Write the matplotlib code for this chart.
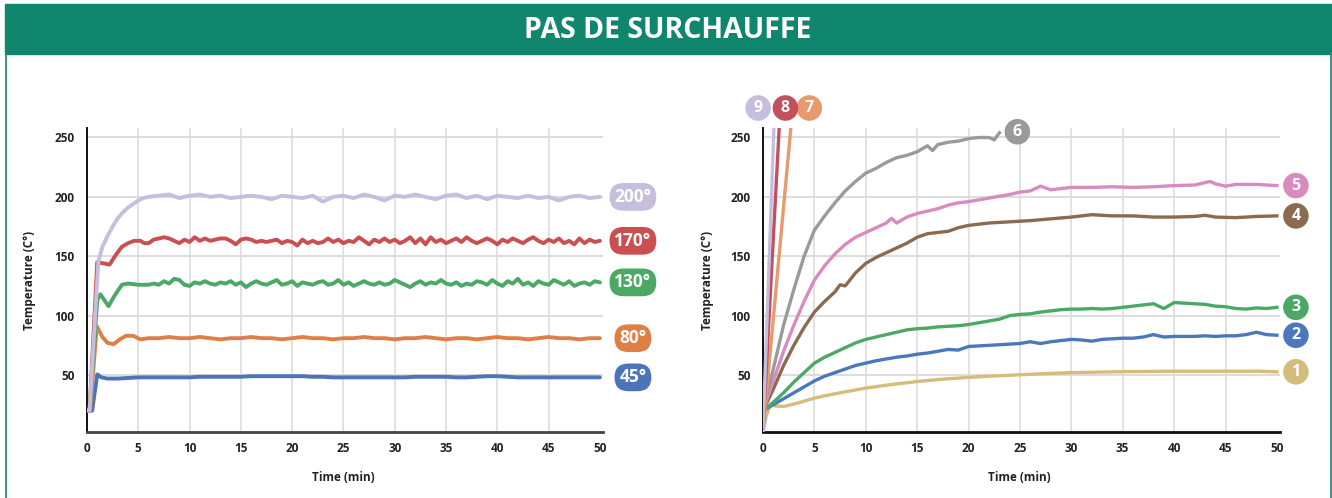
import numpy as np
import matplotlib
matplotlib.use("Agg")
import matplotlib.pyplot as plt
from matplotlib.patches import Rectangle
from matplotlib.lines import Line2D

plt.rcParams['font.family'] = ['Open Sans', 'DejaVu Sans']
plt.rcParams['font.weight'] = 'bold'

# ---- left chart: thermostat set points, temperature vs time ----
left_labels = ['200°', '170°', '130°', '80°', '45°']
left_colors = ['#c5bfdd', '#c94f50', '#4ba865', '#e07f45', '#4c74b8']

t200_start = [0, 0.25, 1.1, 1.5, 2.0, 2.5, 3.0, 3.5, 4.0, 4.5, 5.0, 5.5]
v200_start = [20, 20, 145, 158, 167, 175, 182, 187, 191, 194, 197, 199]
v200_steady = [200, 201, 202, 199, 201, 202, 200, 201, 199, 200, 201, 200, 198,
               201, 200, 199, 201, 196, 200, 201, 199, 202, 200, 197, 201, 200,
               202, 200, 198, 201, 202, 199, 201, 198, 201, 200, 199, 201, 199,
               200, 197, 200, 201, 199, 200]

t170_start = [0, 0.25, 1.0, 1.6, 2.2, 2.8, 3.4, 4.0, 4.6, 5.2, 5.6]
v170_start = [20, 20, 145, 144, 143, 151, 158, 161, 163, 163, 161]
v170_steady = [161, 164, 165, 166, 165, 163, 161, 164, 162, 166, 163, 165, 163,
               164, 165, 165, 163, 160, 164, 165, 164, 162, 163, 162, 163, 164,
               161, 163, 162, 159, 164, 161, 163, 161, 162, 165, 162, 164, 161,
               163, 162, 166, 163, 160, 164, 162, 165, 162, 164, 161, 163, 166,
               161, 165, 160, 166, 162, 164, 161, 163, 165, 162, 166, 163, 161,
               163, 165, 163, 160, 164, 162, 165, 163, 161, 164, 166, 163, 161,
               164, 162, 165, 161, 163, 160, 165, 161, 164, 162, 163]

t130_start = [0, 0.25, 1.0, 1.3, 2.1, 2.7, 3.4, 4.0, 5.0, 5.6]
v130_start = [20, 20, 113, 118, 108, 117, 126, 127, 126, 126]
v130_steady = [126, 127, 126, 129, 127, 131, 130, 126, 125, 128, 127, 129, 127,
               126, 128, 127, 129, 126, 128, 124, 127, 129, 127, 126, 128, 130,
               126, 127, 129, 125, 128, 127, 126, 128, 129, 126, 127, 130, 126,
               128, 125, 127, 129, 127, 126, 128, 126, 127, 130, 128, 126, 124,
               127, 129, 126, 128, 127, 130, 127, 126, 128, 125, 127, 126, 129,
               128, 126, 130, 127, 125, 129, 127, 131, 126, 128, 125, 129, 127,
               126, 130, 128, 126, 129, 125, 127, 128, 126, 129, 128]

t80_start = [0, 0.3, 0.95, 1.5, 2.0, 2.6, 3.2, 3.8, 4.5, 5.2]
v80_start = [20, 20, 91, 82, 77, 76, 80, 83, 83, 80]
v80_steady = [81, 81, 82, 81, 81, 82, 81, 80, 81, 81, 82, 81, 81, 80, 81, 82,
              81, 81, 80, 81, 81, 82, 81, 81, 80, 81, 81, 82, 81, 80, 81, 81,
              80, 81, 82, 81, 81, 80, 81, 82, 81, 81, 80, 81, 81]

t45_start = [0, 0.5, 1.0, 1.4, 2.0, 3.0, 4.0, 5.0]
v45_start = [20, 20, 50.5, 48, 47, 47, 47.5, 48]
v45_steady = [48, 48, 48, 48, 48, 48.5, 48.5, 48.5, 48.5, 48.5, 49, 49, 49, 49,
              49, 49, 48.5, 48.5, 48, 48, 48, 48, 48, 48, 48, 48, 48.5, 48.5,
              48.5, 48.5, 48, 48, 48.5, 49, 49, 48.5, 48, 48, 48, 48, 48, 48,
              48, 48, 48]

left_series = [(t200_start, v200_start, v200_steady),
               (t170_start, v170_start, v170_steady),
               (t130_start, v130_start, v130_steady),
               (t80_start, v80_start, v80_steady),
               (t45_start, v45_start, v45_steady)]

# ---- right chart: numbered appliances ----
t1 = [0, 0.3, 0.7, 1.2, 2, 3, 4, 5, 6, 7.5, 10, 12.5, 15, 17.5, 20, 22.5, 25,
      27.5, 30, 35, 40, 45, 48, 50]
v1 = [3, 15, 25, 24, 23.5, 25.5, 28, 30.5, 32.5, 35, 39, 42, 44.5, 46.5, 48,
      49.2, 50.2, 51.2, 52, 52.8, 53.2, 53.2, 53.2, 52.7]

t2 = list(range(0, 51))
v2 = [20, 25, 30, 35, 40, 45, 49, 52, 55, 58, 60, 62, 63.5, 65, 66, 67.5, 68.5,
      70, 71.5, 71, 74, 74.5, 75, 75.5, 76, 76.5, 78, 76.5, 78, 79, 80, 79.5,
      78.5, 80, 80.5, 81, 81, 82, 84, 82, 82.5, 82.5, 82.5, 83, 82.5, 83, 83,
      84, 86, 84, 83.5]

t3 = list(range(0, 51))
v3 = [20, 27, 35, 44, 52, 60, 65, 69, 73, 77, 80, 82, 84, 86, 88, 89, 89.5,
      90.5, 91, 91.5, 92.5, 94, 95.5, 97, 100, 101, 101.5, 103, 104, 105, 105.5,
      105.5, 106, 105.5, 106, 107, 108, 109, 110, 106, 111, 110.5, 110, 109.5,
      108, 107.5, 106, 105.5, 106.5, 106, 107]

t4 = [0, 1, 2, 3, 4, 5, 6, 7, 7.5, 8, 9, 10, 11, 12, 13, 14, 15, 16, 17, 18,
      19, 20, 22, 24, 26, 28, 30, 32, 34, 36, 38, 40, 42, 43, 44, 46, 48, 50]
v4 = [20, 38, 58, 75, 90, 103, 112, 120, 126, 125, 136, 144, 149, 153, 157,
      161, 166, 169, 170, 171, 174, 176, 178, 179, 180, 181.5, 183, 185, 184,
      184, 183, 183, 183.5, 184.5, 183, 182.5, 183.5, 184]

t5 = [0, 1, 2, 3, 4, 5, 6, 7, 8, 9, 10, 11, 12, 12.5, 13, 14, 15, 16, 17, 18,
      19, 20, 22, 24, 25, 26, 27, 28, 30, 32, 34, 36, 38, 40, 42, 43.5, 44, 45,
      46, 48, 50]
v5 = [20, 45, 70, 92, 112, 130, 142, 152, 160, 166, 170, 174, 178, 182, 178,
      183, 186, 188, 190, 193, 195, 196, 199, 202, 204, 205, 209, 206, 208, 208,
      208.5, 208, 208.5, 209.5, 210, 213, 211, 209, 210.5, 210.5, 209.5]

t6 = [0, 1, 2, 3, 4, 5, 6, 7, 8, 9, 10, 11, 12, 13, 14, 15, 16, 16.5, 17, 18,
      19, 20, 21, 22, 22.5, 23]
v6 = [20, 55, 92, 122, 150, 172, 184, 195, 205, 213, 220, 224, 229, 233, 235,
      238, 243, 239, 244, 246, 247, 249, 250, 250, 248, 254]

t7 = [0, 2.75]
v7 = [3, 262]
t8 = [0, 1.6]
v8 = [3, 262]
t9 = [0, 1.08]
v9 = [3, 262]

right_names = ['1', '2', '3', '4', '5', '6', '7', '8', '9']
right_colors = ['#d4bd7a', '#4b78bd', '#4ba865', '#8a6b4f', '#d98bc0',
                '#9a9a9a', '#e89a6d', '#c2505f', '#c5bfdd']
right_series = [(t1, v1), (t2, v2), (t3, v3), (t4, v4), (t5, v5), (t6, v6),
                (t7, v7), (t8, v8), (t9, v9)]
# label offsets (pixels) from each curve's last point
right_offsets = [(19, 0), (19, 0), (19, 0), (19, 0), (19, 0), (18, 1),
                 (18, 20), (6, 20), (-16, 20)]

x_ticks = list(range(0, 51, 5))
y_ticks = [50, 100, 150, 200, 250]

GREEN = '#11866f'
GRID = '#dadada'

fig = plt.figure(figsize=(13.32, 4.98), dpi=100)
W, H = 1332, 498

# header band and frame
fig.patches.append(Rectangle((5 / W, 1 - 54 / H), 1 - 5 / W, 50 / H,
                             transform=fig.transFigure, color=GREEN, zorder=0))
fig.lines.append(Line2D([5.5 / W, 5.5 / W], [0, 1 - 54 / H],
                        transform=fig.transFigure, color='#2a9079', lw=1.3))
fig.lines.append(Line2D([1330.5 / W, 1330.5 / W], [0, 1 - 54 / H],
                        transform=fig.transFigure, color='#2a9079', lw=1.3))
fig.text(668 / W, 1 - 30 / H, 'PAS DE SURCHAUFFE', color='white',
         fontsize=20.5, fontweight='bold', ha='center', va='center')


def style_axes(ax, bottom_color):
    ax.set_xlim(0, 50.3)
    ax.set_ylim(2, 258)
    ax.set_xticks(x_ticks)
    ax.set_yticks(y_ticks)
    for t in x_ticks[1:-1]:
        ax.axvline(t, color=GRID, lw=1.1, zorder=0)
    for v in y_ticks:
        ax.axhline(v, color=GRID, lw=1.3, zorder=0)
    for s in ['top', 'right']:
        ax.spines[s].set_visible(False)
    ax.spines['left'].set_linewidth(1.4)
    ax.spines['left'].set_color('#111111')
    ax.spines['bottom'].set_linewidth(2)
    ax.spines['bottom'].set_color(bottom_color)
    ax.tick_params(length=0, labelsize=8.5)
    ax.tick_params(axis='y', pad=9)
    ax.tick_params(axis='x', pad=7)
    for lab in ax.get_xticklabels() + ax.get_yticklabels():
        lab.set_fontweight('bold')
        lab.set_color('#222222')
    ax.set_xlabel('Time (min)', fontsize=8.5, fontweight='bold',
                  color='#222222')
    ax.set_ylabel('Temperature (C°)', fontsize=8.5, fontweight='bold',
                  color='#222222')
    ax.xaxis.set_label_coords(0.496, -0.128)
    ax.yaxis.set_label_coords(-0.099, 0.5)


# left chart
ax1 = fig.add_axes([87 / W, 66 / H, 516 / W, 304 / H])
style_axes(ax1, '#444444')
for (ts, vs, steady), lab, col in list(zip(left_series, left_labels,
                                            left_colors))[::-1]:
    t_all = list(ts) + list(np.linspace(6, 50, len(steady)))
    v_all = list(vs) + list(steady)
    ax1.plot(t_all, v_all, color=col, lw=2.8, solid_joinstyle='round',
             solid_capstyle='round', zorder=3)
    ax1.annotate(lab, (t_all[-1], v_all[-1]), xytext=(33, 0),
                 textcoords='offset pixels', ha='center', va='center',
                 color='white', fontsize=12.5, fontweight='bold',
                 annotation_clip=False,
                 bbox=dict(boxstyle='round,pad=0.28,rounding_size=0.8',
                           fc=col, ec='none'))

# right chart
ax2 = fig.add_axes([763 / W, 66 / H, 517 / W, 304 / H])
style_axes(ax2, '#111111')
ax2.yaxis.set_label_coords(-0.095, 0.5)
for (ts, vs), name, col, off in zip(right_series, right_names, right_colors,
                                    right_offsets):
    ax2.plot(ts, vs, color=col, lw=2.4, solid_joinstyle='round', zorder=3)
    ax2.annotate(name, (ts[-1], min(vs[-1], 258)), xytext=off,
                 textcoords='offset pixels', ha='center', va='center',
                 color='white', fontsize=11.5, fontweight='bold',
                 annotation_clip=False,
                 bbox=dict(boxstyle='circle,pad=0.3', fc=col, ec='none'))

fig.savefig('out.png', dpi=100, facecolor='white')
